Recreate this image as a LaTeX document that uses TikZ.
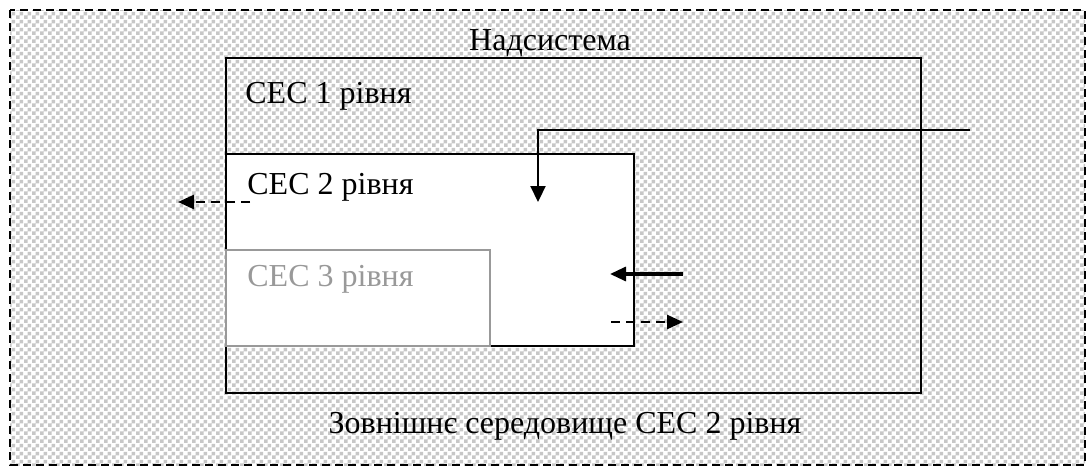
\documentclass[tikz,border=0pt]{standalone}
\usepackage{fontspec}
\setmainfont{Liberation Serif}
\usetikzlibrary{patterns,arrows.meta}
\pgfdeclarepatternformonly{finechecker}{\pgfpointorigin}{\pgfqpoint{4pt}{4pt}}{\pgfqpoint{4pt}{4pt}}{%
  \pgfpathrectangle{\pgfpointorigin}{\pgfqpoint{2pt}{2pt}}%
  \pgfpathrectangle{\pgfqpoint{2pt}{2pt}}{\pgfqpoint{2pt}{2pt}}%
  \pgfusepath{fill}}
\begin{document}
\begin{tikzpicture}[x=0.5pt,y=-0.5pt,
  hatchbg/.style={preaction={fill=white},pattern=finechecker,pattern color=black!22},
  boxline/.style={draw=black,line width=1pt},
  lbl/.style={font=\fontsize{16}{19}\selectfont,inner sep=0pt,anchor=base west},
  solidarr/.style={line width=1.1pt,-{Triangle[length=8pt,width=7.5pt]}},
  thickarr/.style={line width=1.6pt,-{Triangle[length=8pt,width=7pt]}},
  dasharr/.style={line width=1.3pt,dash pattern=on 4.5pt off 3pt,-{Triangle[length=8pt,width=7pt]}}]
\useasboundingbox (0,0) rectangle (1086,466);
% outer environment
\draw[hatchbg,line width=0.8pt,dash pattern=on 4pt off 2.5pt] (10,10) rectangle (1085,465);
% CEC 1
\draw[boxline,hatchbg] (226,58) rectangle (921,393);
% CEC 2
\draw[boxline,fill=white] (226,154) rectangle (634,346);
% CEC 3
\draw[draw=black!40,line width=1pt,fill=white] (226,250) rectangle (490,346);
% labels
\node[lbl,anchor=base] (nad) at (550,50) {Надсистема};
\node[lbl] (c1) at (245,103) {СЕС 1 рівня};
\node[lbl] (c2) at (247,194) {СЕС 2 рівня};
\node[lbl,text=black!40] (c3) at (247,286) {СЕС 3 рівня};
\node[lbl,anchor=base] (env) at (565,433) {Зовнішнє середовище СЕС 2 рівня};
% arrows
\coordinate (a1s) at (970,130);
\coordinate (a1k) at (538,130);
\coordinate (a1e) at (538,202);
\draw[solidarr] (a1s) -- (a1k) -- (a1e);
\coordinate (a2s) at (250,202);
\coordinate (a2e) at (178,202);
\draw[dasharr] (a2s) -- (a2e);
\coordinate (a3s) at (683,274);
\coordinate (a3e) at (610,274);
\draw[thickarr] (a3s) -- (a3e);
\coordinate (a4s) at (611,322);
\coordinate (a4e) at (683,322);
\draw[dasharr] (a4s) -- (a4e);
\end{tikzpicture}
\end{document}
